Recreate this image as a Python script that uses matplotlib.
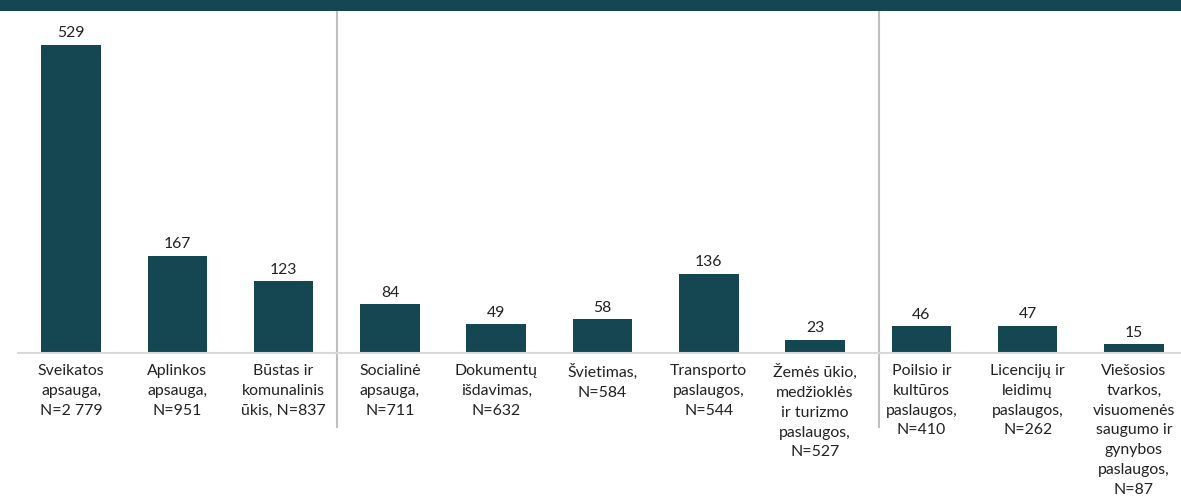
import matplotlib
matplotlib.use("Agg")
import matplotlib.pyplot as plt
from matplotlib.patches import Rectangle

categories = [
    "Sveikatos\napsauga,\nN=2 779",
    "Aplinkos\napsauga,\nN=951",
    "Būstas ir\nkomunalinis\nūkis, N=837",
    "Socialinė\napsauga,\nN=711",
    "Dokumentų\nišdavimas,\nN=632",
    "Švietimas,\nN=584",
    "Transporto\npaslaugos,\nN=544",
    "Žemės ūkio,\nmedžioklės\nir turizmo\npaslaugos,\nN=527",
    "Poilsio ir\nkultūros\npaslaugos,\nN=410",
    "Licencijų ir\nleidimų\npaslaugos,\nN=262",
    "Viešosios\ntvarkos,\nvisuomenės\nsaugumo ir\ngynybos\npaslaugos,\nN=87",
]
values = [529, 167, 123, 84, 49, 58, 136, 23, 46, 47, 15]
group_breaks = [2.5, 7.6]

BAR = "#154753"
plt.rcParams["font.family"] = ["Lato", "DejaVu Sans"]

W, H = 1181, 502
fig = plt.figure(figsize=(W / 100, H / 100), dpi=100)

# header band
fig.patches.append(Rectangle((0, 1 - 12 / H), 1, 12 / H, transform=fig.transFigure,
                             facecolor=BAR, edgecolor="none", zorder=0))

left, right, top, base = 18, 1187, 12, 354
ax = fig.add_axes([left / W, 1 - base / H, (right - left) / W, (base - top) / H])
x = list(range(len(values)))
ax.bar(x, values, width=0.56, color=BAR, zorder=2)
ax.set_xlim(-0.5, len(values) - 0.5)
ax.set_ylim(0, 587)

for xi, v in zip(x, values):
    ax.annotate(f"{v}", (xi, v), xytext=(0, 4), textcoords="offset points",
                ha="center", va="bottom", fontsize=11.3, color="#222222")

for xi, lab in zip(x, categories):
    ax.text(xi, -0.03, lab, transform=ax.get_xaxis_transform(), ha="center", va="top",
            fontsize=11.4, color="#222222", linespacing=1.52)

for b in group_breaks:
    ax.plot([b, b], [-(428 - base) / (base - top), 1], transform=ax.get_xaxis_transform(),
            color="#bfbfbf", lw=1.5, clip_on=False, zorder=1)

for s in ["top", "right", "left"]:
    ax.spines[s].set_visible(False)
ax.spines["bottom"].set_color("#d9d9d9")
ax.spines["bottom"].set_linewidth(1.5)
ax.set_xticks([])
ax.set_yticks([])

fig.savefig("out.png", dpi=100)
